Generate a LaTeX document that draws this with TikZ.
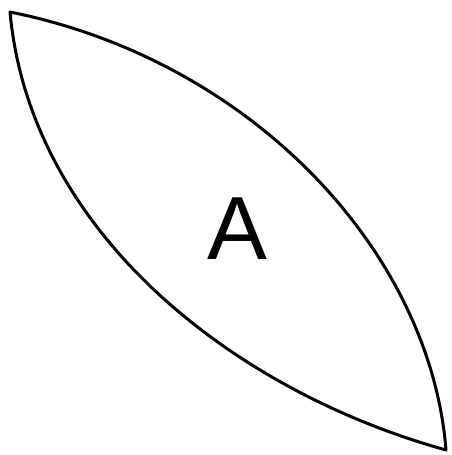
\documentclass[tikz,border=0pt]{standalone}
\usepackage{fontspec}
\setmainfont{Liberation Sans}
\usepackage{tikz}

\tikzset{leaf/.style={draw=black, line width=3bp, line join=round, fill=white},
         letter/.style={font=\fontsize{90}{90}\selectfont, inner sep=0pt}}

\begin{document}
\begin{tikzpicture}[x=1bp, y=-1bp]
\useasboundingbox (0,0) rectangle (452,455);
\coordinate (tip1) at (10,12);
\coordinate (tip2) at (446,450);
\draw[leaf] (tip1) .. controls (250,60) and (430,250) .. (tip2)
            .. controls (230,390) and (30,230) .. cycle;
\node[letter] (lblA) at (237,229) {A};
\end{tikzpicture}
\end{document}
